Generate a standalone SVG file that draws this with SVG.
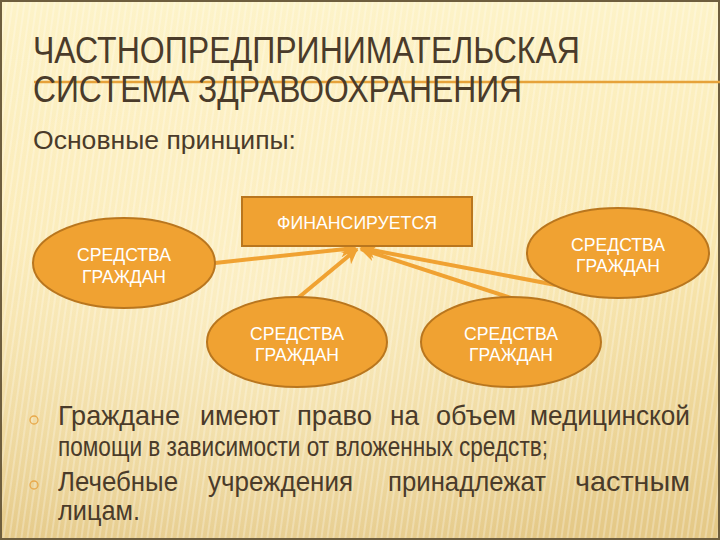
<svg xmlns="http://www.w3.org/2000/svg" width="720" height="540" viewBox="0 0 720 540">
<style>
.t{font-family:"Liberation Sans","Arial",sans-serif;fill:#4a3b2a}
.b{font-family:"Liberation Sans","Arial",sans-serif;fill:#4a3b2a;font-size:28px}
.w{font-family:"Liberation Sans","Arial",sans-serif;fill:#ffffff;font-size:19px;text-anchor:middle}
.node{fill:#F0A232;stroke:#B9761E;stroke-width:2}
.conn{stroke:#F0A232;stroke-width:4;fill:none;marker-end:url(#ah)}
</style>
<defs>
<linearGradient id="bg" x1="0" y1="0" x2="0" y2="1">
<stop offset="0" stop-color="#FDF3C8"/>
<stop offset="0.45" stop-color="#FAE8B0"/>
<stop offset="1" stop-color="#E4C886"/>
</linearGradient>
<radialGradient id="glow" cx="0.35" cy="0.55" r="0.6">
<stop offset="0" stop-color="#FFF6D6" stop-opacity="0.6"/>
<stop offset="1" stop-color="#FFF6D6" stop-opacity="0"/>
</radialGradient>
<pattern id="stripes" width="6" height="40" patternUnits="userSpaceOnUse" patternTransform="skewX(-8)">
<rect x="0" y="0" width="2" height="40" fill="#ffffff" opacity="0.25"/>
</pattern>
<marker id="ah" viewBox="0 0 10 10" refX="9" refY="5" markerWidth="4.5" markerHeight="4" orient="auto" markerUnits="strokeWidth">
<path d="M0,0 L10,5 L0,10 L3,5 z" fill="#F0A232"/>
</marker>
</defs>
<rect width="720" height="540" fill="url(#bg)"/>
<rect width="720" height="540" fill="url(#glow)"/>
<rect width="720" height="540" fill="url(#stripes)"/>
<rect x="1" y="1" width="718" height="538" fill="none" stroke="#6E5E3E" stroke-width="2"/>
<line x1="34" y1="82" x2="720" y2="82" stroke="#E6A23A" stroke-width="2.5"/>
<text class="t" x="33" y="63" font-size="36" textLength="547" lengthAdjust="spacingAndGlyphs">ЧАСТНОПРЕДПРИНИМАТЕЛЬСКАЯ</text>
<text class="t" x="33" y="102" font-size="36" textLength="489" lengthAdjust="spacingAndGlyphs">СИСТЕМА ЗДРАВООХРАНЕНИЯ</text>
<text class="t" x="33" y="149" font-size="26" textLength="263" lengthAdjust="spacingAndGlyphs">Основные принципы:</text>
<g id="connectors">
<line class="conn" x1="215" y1="263" x2="355" y2="248"/>
<line class="conn" x1="298" y1="298" x2="357" y2="249"/>
<line class="conn" x1="511" y1="298" x2="361" y2="249"/>
<line class="conn" x1="556" y1="285" x2="361" y2="248"/>
</g>
<g id="n-fin">
<rect class="node" x="242" y="197" width="230" height="49"/>
<text class="w" x="357" y="229" font-size="17" textLength="160" lengthAdjust="spacingAndGlyphs">ФИНАНСИРУЕТСЯ</text>
</g>
<g id="n-left">
<ellipse class="node" cx="124" cy="263" rx="91" ry="45"/>
<text class="w" x="124" y="261" textLength="94" lengthAdjust="spacingAndGlyphs">СРЕДСТВА</text>
<text class="w" x="124" y="283" textLength="84" lengthAdjust="spacingAndGlyphs">ГРАЖДАН</text>
</g>
<g id="n-right">
<ellipse class="node" cx="618" cy="253" rx="91" ry="45"/>
<text class="w" x="618" y="251" textLength="94" lengthAdjust="spacingAndGlyphs">СРЕДСТВА</text>
<text class="w" x="618" y="272" textLength="84" lengthAdjust="spacingAndGlyphs">ГРАЖДАН</text>
</g>
<g id="n-bl">
<ellipse class="node" cx="297" cy="342" rx="90" ry="45"/>
<text class="w" x="297" y="340" textLength="94" lengthAdjust="spacingAndGlyphs">СРЕДСТВА</text>
<text class="w" x="297" y="361" textLength="84" lengthAdjust="spacingAndGlyphs">ГРАЖДАН</text>
</g>
<g id="n-br">
<ellipse class="node" cx="511" cy="342" rx="90" ry="45"/>
<text class="w" x="511" y="340" textLength="94" lengthAdjust="spacingAndGlyphs">СРЕДСТВА</text>
<text class="w" x="511" y="361" textLength="84" lengthAdjust="spacingAndGlyphs">ГРАЖДАН</text>
</g>
<circle cx="34" cy="420" r="4" fill="none" stroke="#E8A84A" stroke-width="1.3"/>
<circle cx="34" cy="485" r="4" fill="none" stroke="#E8A84A" stroke-width="1.3"/>
<g class="b">
<text x="58" y="425" textLength="122" lengthAdjust="spacingAndGlyphs">Граждане</text>
<text x="200" y="425" textLength="80" lengthAdjust="spacingAndGlyphs">имеют</text>
<text x="297" y="425" textLength="75" lengthAdjust="spacingAndGlyphs">право</text>
<text x="390" y="425" textLength="29" lengthAdjust="spacingAndGlyphs">на</text>
<text x="436" y="425" textLength="80" lengthAdjust="spacingAndGlyphs">объем</text>
<text x="530" y="425" textLength="160" lengthAdjust="spacingAndGlyphs">медицинской</text>
<text x="58" y="456" textLength="490" lengthAdjust="spacingAndGlyphs">помощи в зависимости от вложенных средств;</text>
<text x="58" y="491" textLength="120" lengthAdjust="spacingAndGlyphs">Лечебные</text>
<text x="208" y="491" textLength="145" lengthAdjust="spacingAndGlyphs">учреждения</text>
<text x="388" y="491" textLength="158" lengthAdjust="spacingAndGlyphs">принадлежат</text>
<text x="575" y="491" textLength="115" lengthAdjust="spacingAndGlyphs">частным</text>
<text x="58" y="520" textLength="82" lengthAdjust="spacingAndGlyphs">лицам.</text>
</g>
</svg>
